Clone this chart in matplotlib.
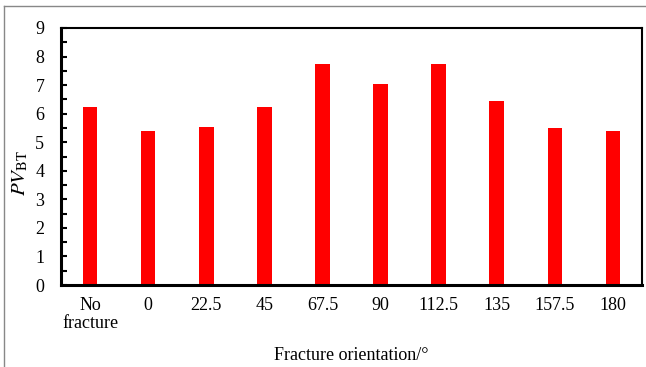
import numpy as np
import matplotlib.pyplot as plt
from matplotlib.lines import Line2D

plt.rcParams['font.family'] = ['Liberation Serif', 'DejaVu Serif']
plt.rcParams['mathtext.fontset'] = 'stix'

# breakthrough pore volumes for each fracture orientation
categories = ['No\nfracture', '0', '22.5', '45', '67.5', '90', '112.5', '135', '157.5', '180']
pv_bt = [6.23, 5.39, 5.54, 6.24, 7.74, 7.04, 7.74, 6.45, 5.50, 5.39]

W, H = 646, 367
fig = plt.figure(figsize=(W/100, H/100), dpi=100)
ax = fig.add_axes([61/W, 1-285/H, 581/W, 257/H])

x = np.arange(len(categories))
ax.bar(x, pv_bt, width=0.25, color='#ff0000', zorder=2)

ax.set_xlim(-0.5, len(categories)-0.5)
ax.set_ylim(0, 9)
ax.set_yticks(np.arange(0, 10, 1))
ax.set_yticks(np.arange(0, 9.01, 0.5), minor=True)
ax.tick_params(axis='y', which='both', direction='in', length=4, width=1.5, pad=12, labelsize=13)
ax.tick_params(axis='x', length=0, pad=9, labelsize=13)
ax.set_xticks(x)
ax.set_xticklabels(categories, linespacing=1.05)

for s in ['top', 'right']:
    ax.spines[s].set_linewidth(1.5)
for s in ['left', 'bottom']:
    ax.spines[s].set_linewidth(2.2)

fig.text(20/W, 1-173/H, r'$PV_{\mathrm{BT}}$', fontsize=15, rotation=90, ha='center', va='center')
fig.text(351/W, 1-360/H, 'Fracture orientation/°', fontsize=13, ha='center', va='baseline')

# outer chart border
fig.add_artist(Line2D([4/W, 4/W], [0, 1-6/H], transform=fig.transFigure, color='#888888', lw=1))
fig.add_artist(Line2D([4/W, 1], [1-6/H, 1-6/H], transform=fig.transFigure, color='#888888', lw=1))

fig.savefig('out.png', dpi=100)
